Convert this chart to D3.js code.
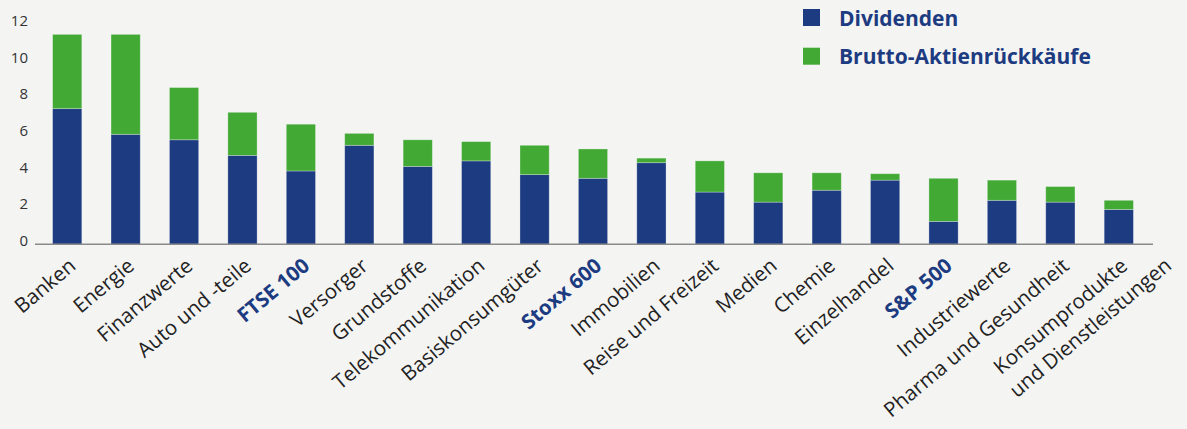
<!DOCTYPE html>
<html>
<head>
<meta charset="utf-8">
<script src="https://cdn.jsdelivr.net/npm/d3@7"></script>
<style>
  body { margin: 0; background: #f4f4f3; }
  svg { display: block; font-family: "Open Sans", sans-serif; }
</style>
</head>
<body>
<div id="chart"></div>
<script>
// Sektoren (Labels mit \n = zwei Zeilen)
const categories = [
  "Banken", "Energie", "Finanzwerte", "Auto und -teile", "FTSE 100", "Versorger",
  "Grundstoffe", "Telekommunikation", "Basiskonsumgüter", "Stoxx 600", "Immobilien",
  "Reise und Freizeit", "Medien", "Chemie", "Einzelhandel", "S&P 500",
  "Industriewerte", "Pharma und Gesundheit", "Konsumprodukte\nund Dienstleistungen"
];
const indices = ["FTSE 100", "Stoxx 600", "S&P 500"];

const dividenden = [7.4, 6.0, 5.7, 4.85, 4.0, 5.4, 4.25, 4.55, 3.8, 3.6, 4.45,
                    2.85, 2.3, 2.95, 3.5, 1.25, 2.4, 2.3, 1.9];
const rueckkaeufe = [4.05, 5.45, 2.85, 2.35, 2.55, 0.65, 1.45, 1.05, 1.6, 1.6, 0.25,
                     1.7, 1.6, 0.95, 0.35, 2.35, 1.1, 0.85, 0.5];

const yTicks = [0, 2, 4, 6, 8, 10, 12];
const seriesNames = ["Dividenden", "Brutto-Aktienrückkäufe"];
const colors = ["#1c3b80", "#43a935"];

const width = 1187, height = 429;

const svg = d3.select("#chart")
  .append("svg")
  .attr("width", width)
  .attr("height", height);

const x = d3.scaleBand()
  .domain(categories)
  .range([38, 1148])
  .paddingInner(0.5)
  .paddingOuter(0.25);

const y = d3.scaleLinear()
  .domain([0, 12])
  .range([244.3, 24.3]);

// Stapel
const rows = categories.map((c, i) => ({ cat: c, div: dividenden[i], buy: rueckkaeufe[i] }));
const stack = d3.stack().keys(["div", "buy"])(rows);

svg.append("g")
  .selectAll("g")
  .data(stack)
  .enter()
  .append("g")
  .attr("fill", (d, i) => colors[i])
  .selectAll("rect")
  .data((d) => d)
  .enter()
  .append("rect")
  .attr("x", (d) => x(d.data.cat))
  .attr("y", (d) => y(d[1]))
  .attr("width", x.bandwidth())
  .attr("height", (d) => y(d[0]) - y(d[1]))
  .attr("stroke", "rgba(255,255,255,0.35)")
  .attr("stroke-width", 0.8);

// Y-Achse
const yAxis = svg.append("g")
  .attr("transform", "translate(28,0)")
  .call(d3.axisLeft(y).tickValues(yTicks).tickSize(0).tickPadding(0));
yAxis.select(".domain").remove();
yAxis.selectAll("text")
  .attr("y", -3.5)
  .attr("font-size", 15)
  .attr("font-family", "Open Sans, sans-serif")
  .attr("fill", "#333");

// Grundlinie
svg.append("line")
  .attr("x1", 35)
  .attr("x2", 1153)
  .attr("y1", y(0))
  .attr("y2", y(0))
  .attr("stroke", "#8a8a8a")
  .attr("stroke-width", 1.5);

// X-Labels, um 40 Grad gedreht
const labels = svg.append("g")
  .selectAll("text")
  .data(categories)
  .enter()
  .append("text")
  .attr("transform", (d) => "translate(" + (x(d) + x.bandwidth() / 2 + 10) + "," + 268 + ") rotate(-40)")
  .attr("text-anchor", "end")
  .attr("font-size", 20.5)
  .attr("font-weight", (d) => (indices.includes(d) ? "bold" : "normal"))
  .attr("fill", (d) => (indices.includes(d) ? "#1c3b80" : "#222"));

labels.each(function (d) {
  const lines = d.split("\n");
  const t = d3.select(this);
  lines.forEach((l, i) => {
    t.append("tspan")
      .attr("x", i * 34)
      .attr("dy", i === 0 ? 0 : 28)
      .text(l);
  });
});

// Legende
const legend = svg.append("g").attr("transform", "translate(803,9)");
seriesNames.forEach((name, i) => {
  legend.append("rect")
    .attr("x", 0)
    .attr("y", i * 38.7)
    .attr("width", 17)
    .attr("height", 17)
    .attr("fill", colors[i]);
  legend.append("text")
    .attr("x", 36)
    .attr("y", i * 38.7 + 16.5)
    .attr("font-size", 21)
    .attr("font-weight", "bold")
    .attr("fill", "#1c3b80")
    .text(name);
});
</script>
</body>
</html>
